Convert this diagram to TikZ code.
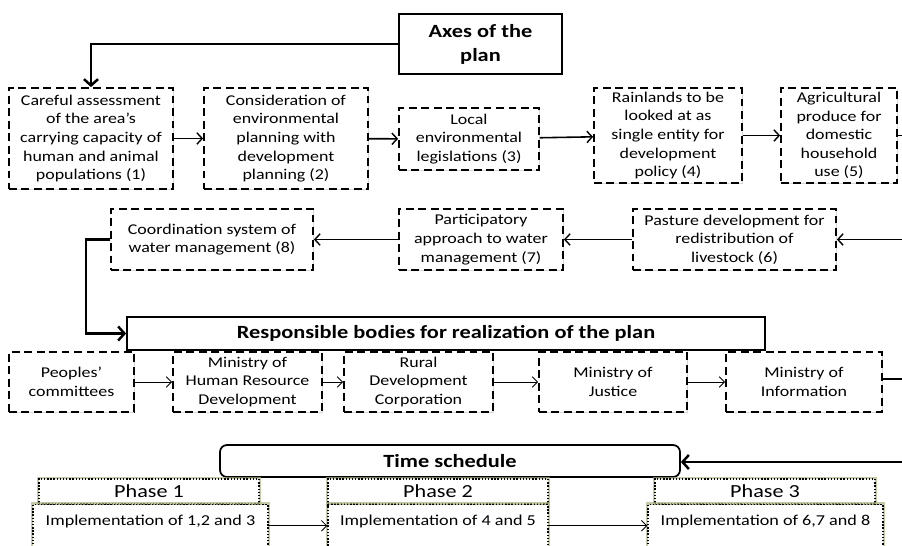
\documentclass[tikz,border=0pt]{standalone}
\usepackage{fontspec}
\setmainfont{Carlito}[FakeStretch=1.2]
\usepackage{tikz}
\usetikzlibrary{arrows.meta,shadows}
\definecolor{glow}{RGB}{168,178,128}

\begin{document}
\begin{tikzpicture}
          [font=\fontsize{8.5}{10.6}\selectfont,
          dbox/.style={shape=rectangle,draw=black,fill=white,line width=1pt,dash pattern=on 4.5pt off 2.6pt,align=center,inner sep=0pt,drop shadow={shadow xshift=0.7pt,shadow yshift=-0.7pt,opacity=0.3}},
          tbox/.style={shape=rectangle,draw=black,fill=white,line width=1pt,align=center,inner sep=0pt,font=\fontsize{10.6}{13.6}\selectfont\bfseries},
          phbox/.style={shape=rectangle,draw=black,fill=white,densely dotted,line width=0.8pt,preaction={draw=glow,solid,line width=2.6pt,opacity=0.7},inner sep=0pt,minimum width=4.4cm,minimum height=0.5cm,font=\fontsize{10.5}{12}\selectfont},
          imbox/.style={phbox,font=\fontsize{8.6}{10.6}\selectfont,anchor=north,text height=6pt,text depth=24pt,inner ysep=6pt,minimum height=0cm},
          arc/.style={->,>={Straight Barb[length=3pt,width=6.5pt,line width=0.8pt]},line width=0.9pt},
          larc/.style={->,>={Straight Barb[length=3pt,width=6pt,line width=0.5pt]},line width=0.55pt},
          barc/.style={->,>={Straight Barb[length=3.6pt,width=8pt]},line width=1.4pt}]

            \useasboundingbox (0,0) rectangle (18.04,-10.9);

            \node (axes) [tbox,minimum width=3.26cm,minimum height=1.2cm,line width=1.2pt,drop shadow={shadow xshift=0.8pt,shadow yshift=-0.8pt,opacity=0.3}] at (9.61,-0.88) {Axes of the\\plan};
            \node (a1) [dbox,minimum width=3.28cm,minimum height=2.02cm] at (1.82,-2.77) {Careful assessment\\of the area’s\\carrying capacity of\\human and animal\\populations (1)};
            \node (a2) [dbox,minimum width=3.28cm,minimum height=2.02cm] at (5.72,-2.77) {Consideration of\\environmental\\planning with\\development\\planning (2)};
            \node (a3) [dbox,minimum width=2.8cm,minimum height=1.24cm] at (9.38,-2.78) {Local\\environmental\\legislations (3)};
            \node (a4) [dbox,minimum width=2.96cm,minimum height=1.9cm] at (13.36,-2.71) {Rainlands to be\\looked at as\\single entity for\\development\\policy (4)};
            \node (a5) [dbox,minimum width=2.32cm,minimum height=1.9cm] at (16.78,-2.71) {Agricultural\\produce for\\domestic\\household\\use (5)};
            \node (a6) [dbox,minimum width=4.06cm,minimum height=1.22cm] at (14.69,-4.79) {Pasture development for\\redistribution of\\livestock (6)};
            \node (a7) [dbox,minimum width=3.28cm,minimum height=1.22cm] at (9.62,-4.79) {Participatory\\approach to water\\management (7)};
            \node (a8) [dbox,minimum width=4.04cm,minimum height=1.22cm] at (4.24,-4.79) {Coordination system of\\water management (8)};

            \node (resp) [tbox,minimum width=12.76cm,minimum height=0.66cm] at (8.92,-6.67) {Responsible bodies for realization of the plan};
            \node (b1) [dbox,minimum width=2.5cm,minimum height=1.2cm] at (1.43,-7.64) {Peoples’\\committees};
            \node (b2) [dbox,minimum width=2.98cm,minimum height=1.2cm] at (4.95,-7.64) {Ministry of\\Human Resource\\Development};
            \node (b3) [dbox,minimum width=2.98cm,minimum height=1.2cm] at (8.37,-7.64) {Rural\\Development\\Corporation};
            \node (b4) [dbox,minimum width=2.96cm,minimum height=1.2cm] at (12.26,-7.64) {Ministry of\\Justice};
            \node (b5) [dbox,minimum width=3.12cm,minimum height=1.2cm] at (16.08,-7.64) {Ministry of\\Information};

            \node (time) [tbox,rounded corners=4pt,minimum width=9.2cm,minimum height=0.64cm] at (9.0,-9.22) {Time schedule};
            \node (ph1) [phbox] at (2.98,-9.83) {Phase 1};
            \node (ph2) [phbox] at (8.76,-9.83) {Phase 2};
            \node (ph3) [phbox] at (15.3,-9.83) {Phase 3};
            \node (im1) [imbox,minimum width=4.7cm] at (3.01,-10.08) {Implementation of 1,2 and 3};
            \node (im2) [imbox,minimum width=4.4cm] at (8.76,-10.08) {Implementation of 4 and 5};
            \node (im3) [imbox,minimum width=4.7cm] at (15.31,-10.08) {Implementation of 6,7 and 8};

            \coordinate (r1) at (18.04,-2.71);
            \coordinate (r2) at (18.04,-4.79);
            \coordinate (r3) at (18.04,-7.58);
            \coordinate (r4) at (18.04,-9.24);

            \draw [barc] (axes.west) -| (a1.north);
            \draw [arc] (a1) to (a2);
            \draw [arc] (a2) to (a3);
            \draw [arc] (a3) to (a4);
            \draw [arc] (a4) to (a5);
            \draw [line width=0.9pt] (a5.east) to (r1);
            \draw [arc] (r2) to (a6.east);
            \draw [arc] (a6) to (a7);
            \draw [arc] (a7) to (a8);
            \draw [barc] (a8.west) -- ++(-0.48,0) |- (resp.west);
            \draw [larc] (b1) to (b2);
            \draw [larc] (b2) to (b3);
            \draw [larc] (b3) to (b4);
            \draw [larc] (b4) to (b5);
            \draw [line width=1.4pt] (b5.east |- r3) to (r3);
            \draw [barc] (r4) to (time.east |- r4);
            \draw [larc] (im1.base east) to (im2.base west);
            \draw [larc] (im2.base east) to (im3.base west);

        \end{tikzpicture}
\end{document}
